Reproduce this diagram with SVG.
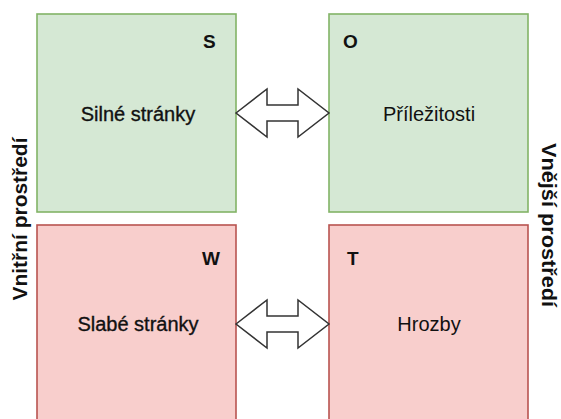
<svg xmlns="http://www.w3.org/2000/svg" width="561" height="419" viewBox="0 0 561 419">
  <style>
    text { font-family: "Liberation Sans", Arial, sans-serif; fill: #111; }
    .box-s { fill: #d5e8d4; stroke: #82b366; stroke-width: 1.6; }
    .box-w { fill: #f8cecc; stroke: #b85450; stroke-width: 1.6; }
    .title { font-size: 20px; text-anchor: middle; stroke: #111; stroke-width: 0.35; }
    .plain { font-size: 20px; text-anchor: middle; }
    .letter { font-size: 19px; font-weight: bold; }
    .side { font-size: 19.5px; font-weight: bold; text-anchor: middle; }
    .dbl { fill: #fff; stroke: #333; stroke-width: 1.5; stroke-linejoin: miter; }
  </style>
  <rect width="561" height="419" fill="#fff"/>

  <g id="strengths">
    <rect class="box-s" x="37" y="14" width="199" height="198"/>
    <text class="letter" x="203" y="48">S</text>
    <text class="title" x="138" y="121">Silné stránky</text>
  </g>

  <g id="opportunities">
    <rect class="box-s" x="329" y="14" width="199" height="198"/>
    <text class="letter" x="343" y="48">O</text>
    <text class="plain" x="429" y="121">Příležitosti</text>
  </g>

  <g id="weaknesses">
    <rect class="box-w" x="37" y="225" width="199" height="200"/>
    <text class="letter" x="202" y="265">W</text>
    <text class="title" x="138" y="331">Slabé stránky</text>
  </g>

  <g id="threats">
    <rect class="box-w" x="329" y="225" width="199" height="200"/>
    <text class="letter" x="347" y="265">T</text>
    <text class="plain" x="429" y="331">Hrozby</text>
  </g>

  <g id="internal-label">
    <text class="side" transform="translate(27,219) rotate(-90)" textLength="163" lengthAdjust="spacingAndGlyphs">Vnitřní prostředí</text>
  </g>

  <g id="external-label">
    <text class="side" transform="translate(542,225) rotate(90)" textLength="164" lengthAdjust="spacingAndGlyphs">Vnější prostředí</text>
  </g>

  <g id="connectors">
    <path class="dbl" d="M236,113 L267,89 L267,105 L298,105 L298,89 L329,113 L298,137 L298,121 L267,121 L267,137 Z"/>
    <path class="dbl" d="M236,324 L267,300 L267,316 L298,316 L298,300 L329,324 L298,348 L298,332 L267,332 L267,348 Z"/>
  </g>
</svg>
